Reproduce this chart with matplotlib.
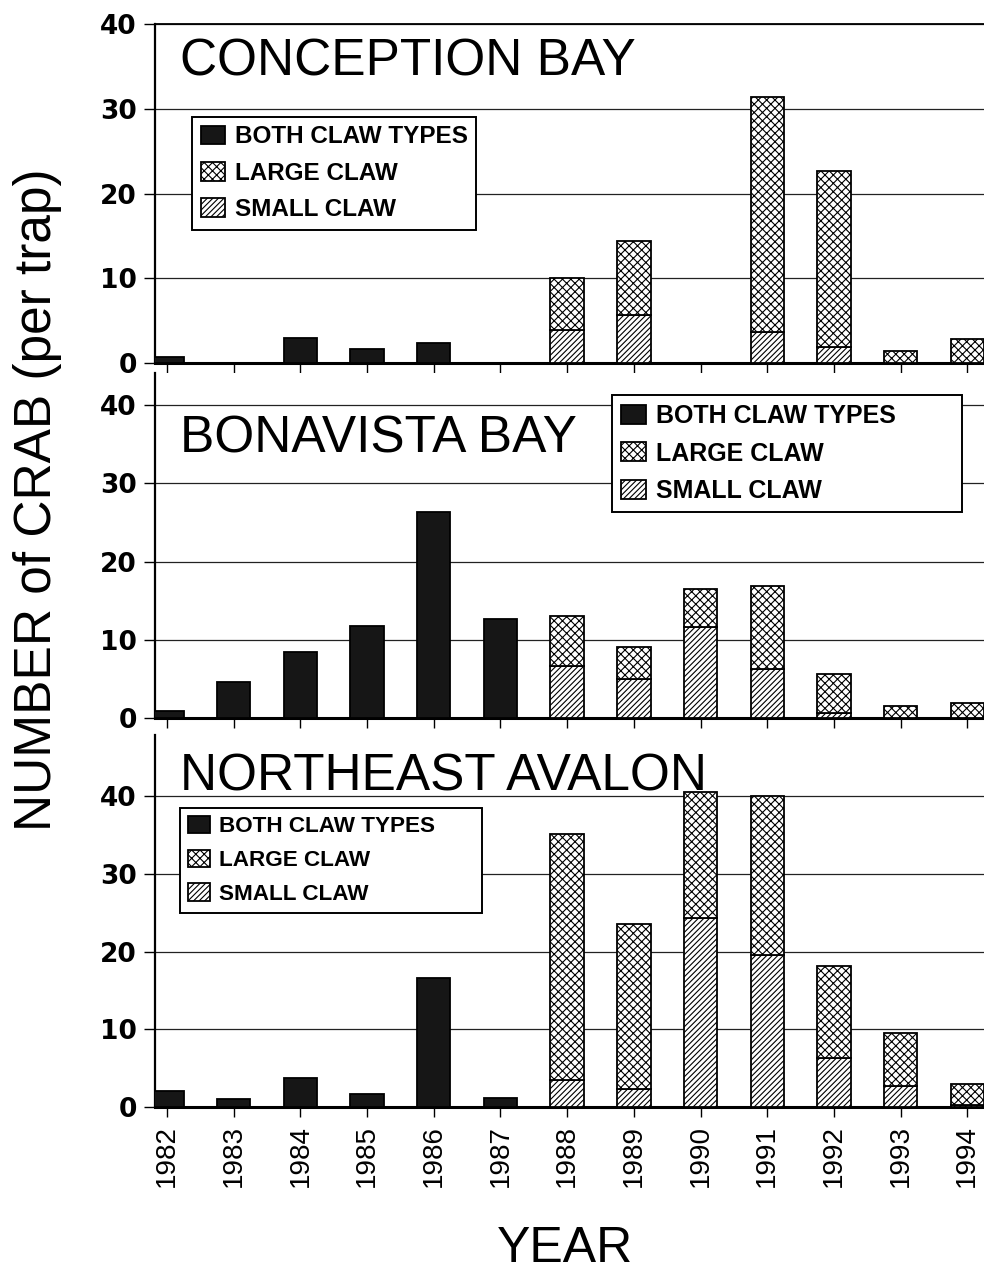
import numpy as np
import matplotlib
matplotlib.use("Agg")
import matplotlib.pyplot as plt
from matplotlib.patches import Patch

# ---------------- data ----------------
years = [1982, 1983, 1984, 1985, 1986, 1987, 1988, 1989, 1990, 1991, 1992, 1993, 1994]
year_labels = [str(y) for y in years]

panel_titles = ["CONCEPTION BAY", "BONAVISTA BAY", "NORTHEAST AVALON"]

conception_both = [0.7, 0.0, 3.0, 1.6, 2.4, 0.0, 0.0, 0.0, 0.0, 0.0, 0.0, 0.0, 0.0]
conception_small = [0.0, 0.0, 0.0, 0.0, 0.0, 0.0, 3.9, 5.7, 0.0, 3.6, 1.9, 0.0, 0.0]
conception_large = [0.0, 0.0, 0.0, 0.0, 0.0, 0.0, 6.1, 8.7, 0.0, 27.8, 20.8, 1.4, 2.8]

bonavista_both = [0.9, 4.6, 8.4, 11.7, 26.3, 12.6, 0.0, 0.0, 0.0, 0.0, 0.0, 0.0, 0.0]
bonavista_small = [0.0, 0.0, 0.0, 0.0, 0.0, 0.0, 6.6, 5.0, 11.6, 6.3, 0.7, 0.0, 0.0]
bonavista_large = [0.0, 0.0, 0.0, 0.0, 0.0, 0.0, 6.4, 4.1, 4.9, 10.6, 4.9, 1.5, 1.9]

avalon_both = [2.0, 1.0, 3.7, 1.7, 16.6, 1.2, 0.0, 0.0, 0.0, 0.0, 0.0, 0.0, 0.0]
avalon_small = [0.0, 0.0, 0.0, 0.0, 0.0, 0.0, 3.5, 2.3, 24.4, 19.6, 6.3, 2.7, 0.3]
avalon_large = [0.0, 0.0, 0.0, 0.0, 0.0, 0.0, 31.6, 21.2, 16.1, 20.5, 11.9, 6.8, 2.7]

legend_labels = ["BOTH CLAW TYPES", "LARGE CLAW", "SMALL CLAW"]
yticks = [0, 10, 20, 30, 40]

# ---------------- style ----------------
plt.rcParams["hatch.linewidth"] = 0.8
plt.rcParams["font.family"] = ["Liberation Sans", "DejaVu Sans"]

BOTH_STYLE = dict(facecolor="#161616", edgecolor="black", linewidth=1.3)
LARGE_STYLE = dict(facecolor="white", edgecolor="black", hatch="xxxx", linewidth=1.3)
SMALL_STYLE = dict(facecolor="white", edgecolor="black", hatch="//////", linewidth=1.3)

fig = plt.figure(figsize=(9.84, 12.74), dpi=100)
W, H = 984, 1274
left_px, right_px = 155, 984

panels = [
    dict(top=24, bottom=363, ymax=40.0, both=conception_both, small=conception_small,
         large=conception_large, title_base=0.847, leg=(0.045, 0.726), legw=None,
         legfs=17.5, topspine=True),
    dict(top=373, bottom=718, ymax=44.1, both=bonavista_both, small=bonavista_small,
         large=bonavista_large, title_base=0.771, leg=(0.551, 0.936), legw=0.422,
         legfs=18.0, topspine=False),
    dict(top=735, bottom=1107, ymax=47.9, both=avalon_both, small=avalon_small,
         large=avalon_large, title_base=0.852, leg=(0.030, 0.804), legw=0.364,
         legfs=16.2, topspine=False),
]

x = np.array(years, dtype=float)
bw = 0.5

for i, p in enumerate(panels):
    rect = [left_px / W, 1 - p["bottom"] / H, (right_px - left_px) / W, (p["bottom"] - p["top"]) / H]
    ax = fig.add_axes(rect)
    both = np.array(p["both"])
    small = np.array(p["small"])
    large = np.array(p["large"])

    m = both > 0
    ax.bar(x[m], both[m], width=bw, zorder=3, **BOTH_STYLE)
    m = small > 0
    ax.bar(x[m], small[m], width=bw, zorder=3, **SMALL_STYLE)
    m = large > 0
    ax.bar(x[m], large[m], width=bw, bottom=small[m], zorder=3, **LARGE_STYLE)

    ax.set_xlim(1981.82, 1994.25)
    ax.set_ylim(0, p["ymax"])
    ax.set_yticks(yticks)
    ax.set_xticks(years)
    ax.yaxis.grid(True, color="#222222", linewidth=0.9, zorder=0)
    ax.set_axisbelow(True)

    ax.spines["right"].set_visible(False)
    ax.spines["top"].set_visible(p["topspine"])
    ax.spines["top"].set_linewidth(1.3)
    ax.spines["left"].set_linewidth(1.6)
    ax.spines["bottom"].set_linewidth(2.2)

    ax.tick_params(axis="y", direction="out", length=8, width=1.0, pad=5)
    ax.tick_params(axis="x", direction="out", length=7, width=1.0, pad=6)
    for lab in ax.get_yticklabels():
        lab.set_fontfamily("DejaVu Sans")
        lab.set_fontweight("bold")
        lab.set_fontsize(19)
    if i < 2:
        ax.set_xticklabels([])
    else:
        ax.set_xticklabels(year_labels, rotation=90, fontsize=20)

    ax.text(0.030, p["title_base"], panel_titles[i], transform=ax.transAxes,
            fontsize=37, ha="left", va="baseline", zorder=5)

    handles = [Patch(**BOTH_STYLE), Patch(**LARGE_STYLE), Patch(**SMALL_STYLE)]
    legkw = dict(loc="upper left", borderaxespad=0, frameon=True, fancybox=False,
                 framealpha=1, edgecolor="black", handlelength=1.0, handleheight=0.8,
                 handletextpad=0.4, labelspacing=0.55, borderpad=0.35,
                 prop=dict(family="Liberation Sans", weight="bold", size=p["legfs"]))
    if p["legw"] is None:
        leg = ax.legend(handles, legend_labels, bbox_to_anchor=p["leg"], **legkw)
    else:
        bx, by = p["leg"]
        leg = ax.legend(handles, legend_labels, mode="expand",
                        bbox_to_anchor=(bx, by - 0.01, p["legw"], 0.01), **legkw)
    leg.get_frame().set_linewidth(1.4)
    leg.set_zorder(6)

fig.text(0.0386, 0.6075, "NUMBER of CRAB (per trap)", rotation=90, fontsize=37,
         ha="center", va="center")
fig.text(0.574, 0.0196, "YEAR", fontsize=36, ha="center", va="center")

fig.savefig("out.png", dpi=100)
